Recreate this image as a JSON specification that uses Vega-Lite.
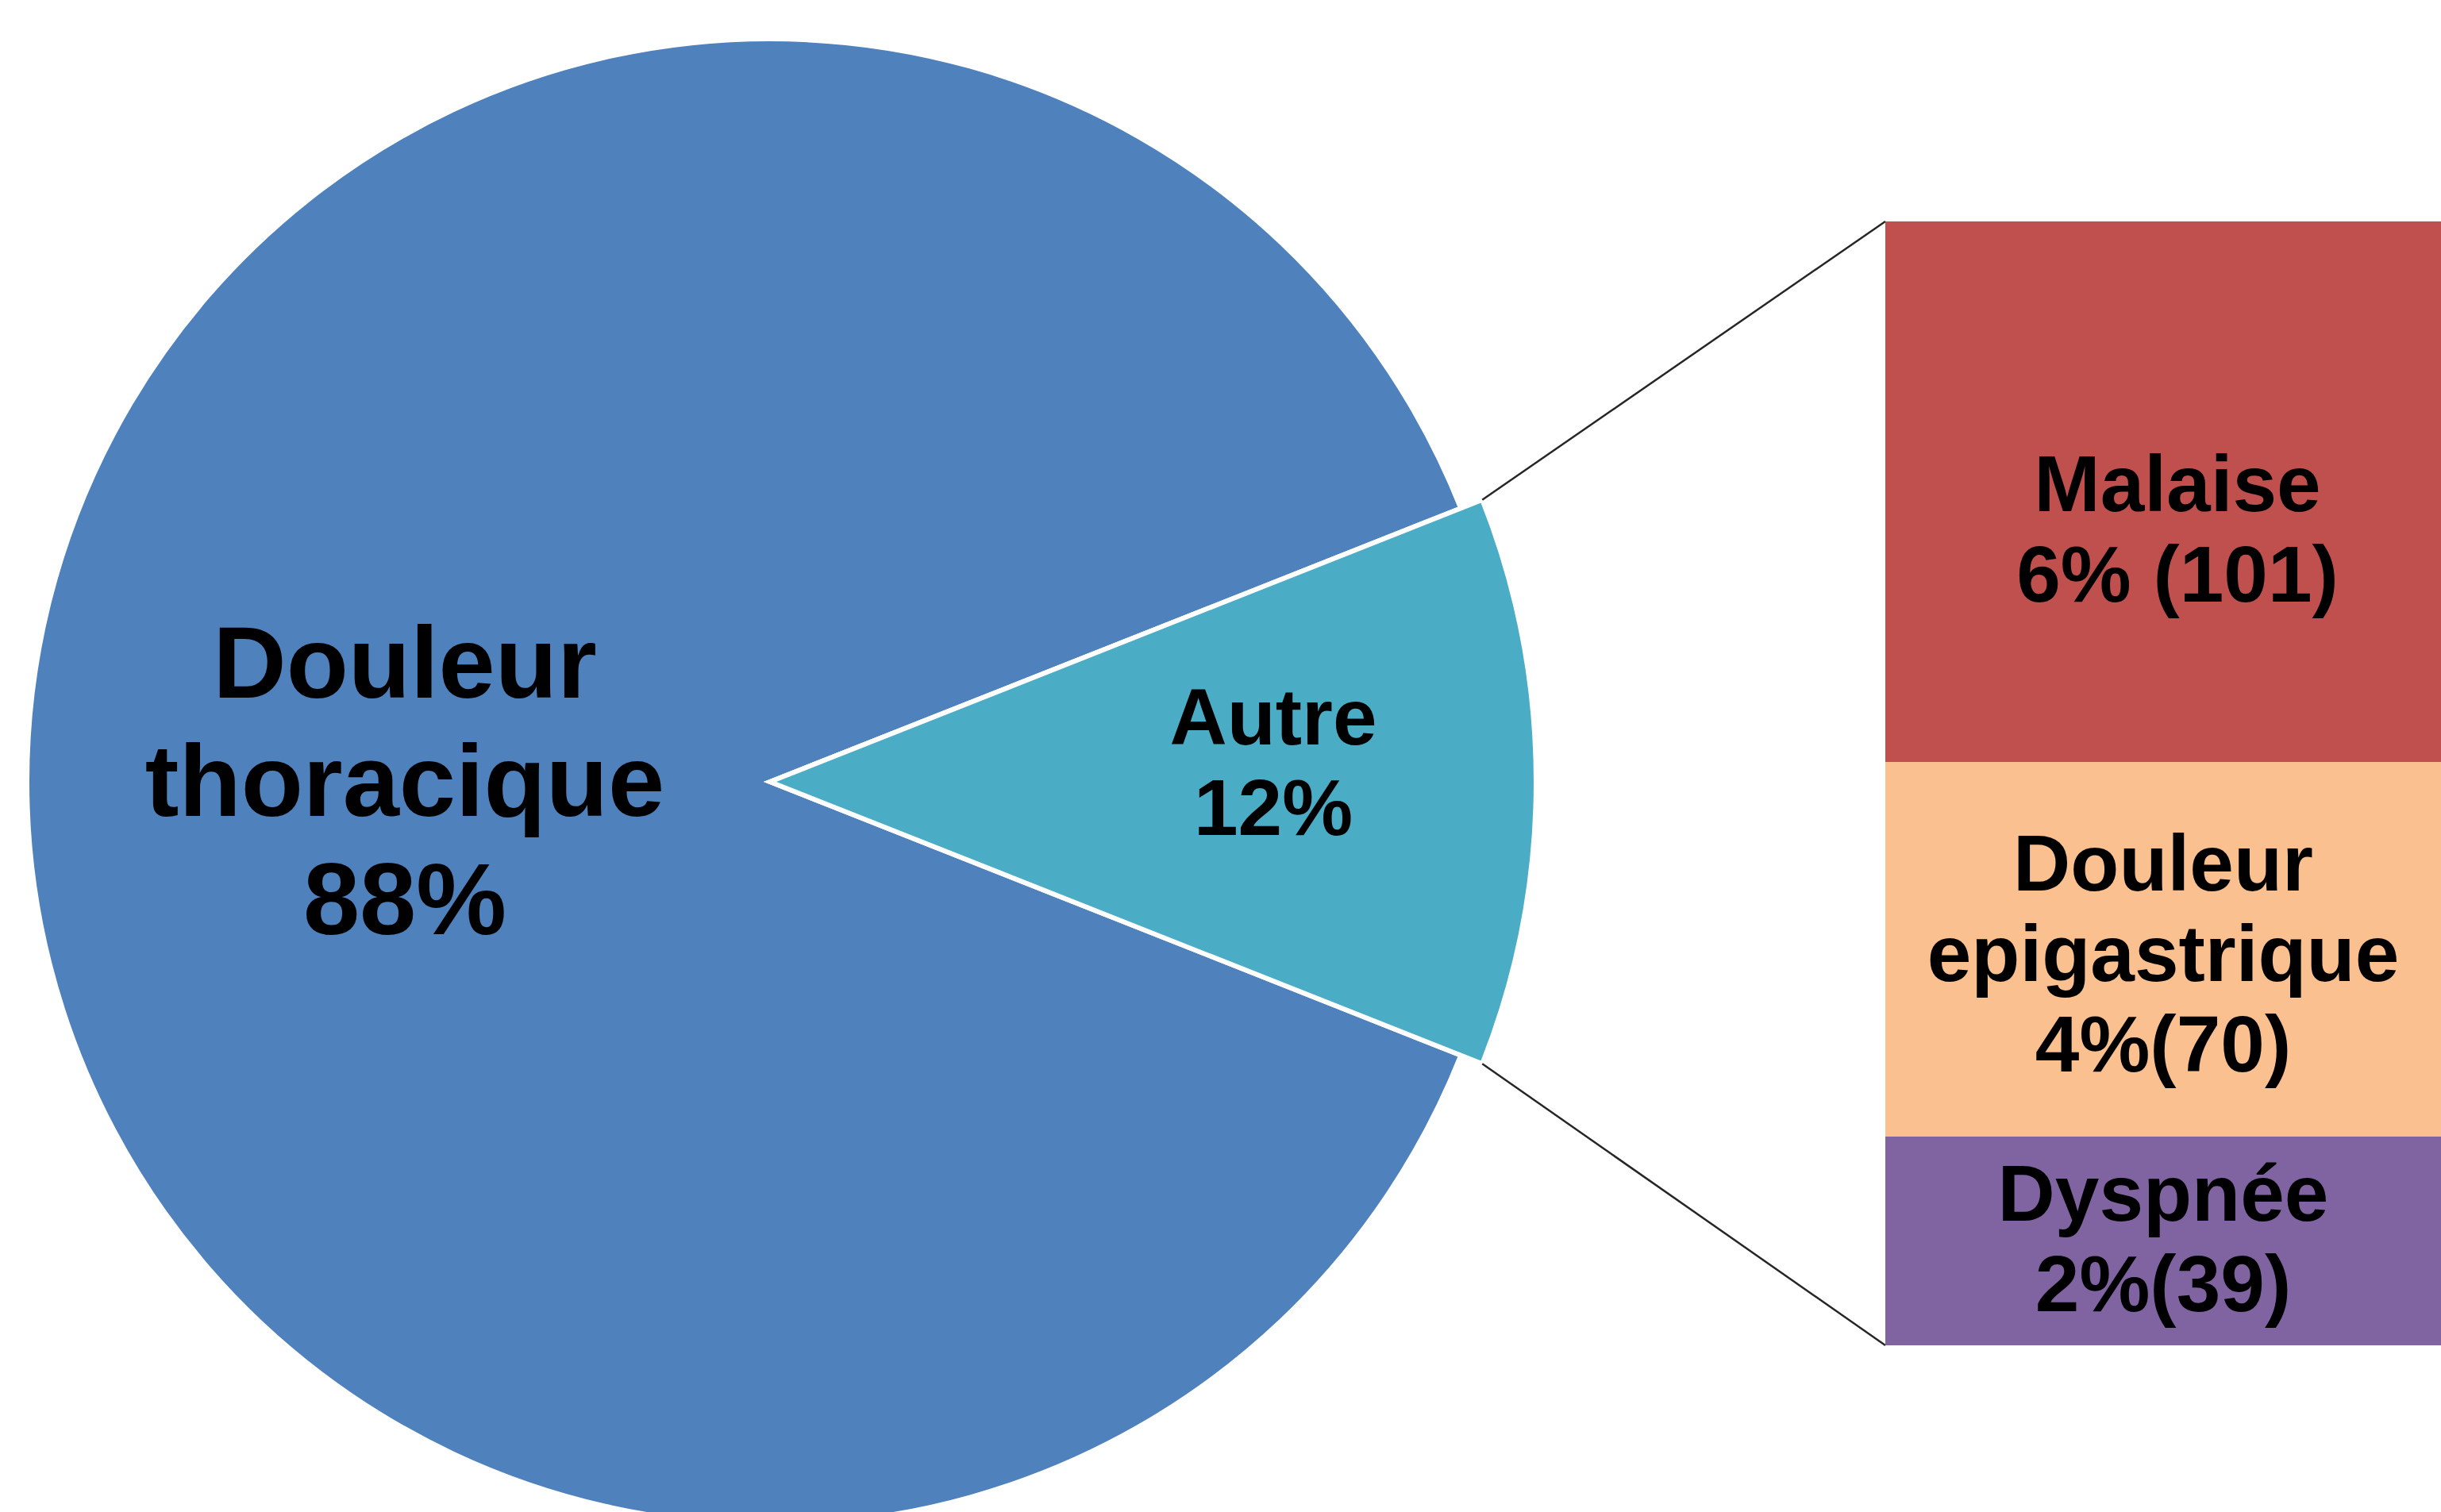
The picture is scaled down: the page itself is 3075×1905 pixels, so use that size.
{
  "$schema": "https://vega.github.io/schema/vega-lite/v6.json",
  "padding": 0,
  "background": "white",
  "config": {"view": {"stroke": null}, "text": {"font": "Liberation Sans"}},
  "datasets": {
    "camembert": [
      {"categorie": "Autre", "pct": 12, "ordre": 1, "etiquette": ["Autre", "12%"]},
      {"categorie": "Douleur thoracique", "pct": 88, "ordre": 2, "etiquette": ["Douleur", "thoracique", "88%"]}
    ],
    "barre": [
      {"groupe": "Autre", "categorie": "Dyspnée", "n": 39, "pct": 2, "ordre": 1, "etiquette": ["Dyspnée", "2%(39)"]},
      {"groupe": "Autre", "categorie": "Douleur epigastrique", "n": 70, "pct": 4, "ordre": 2, "etiquette": ["Douleur", "epigastrique", "4%(70)"]},
      {"groupe": "Autre", "categorie": "Malaise", "n": 101, "pct": 6, "ordre": 3, "etiquette": ["Malaise", "6% (101)"]}
    ]
  },
  "spacing": 435,
  "bounds": "flush",
  "hconcat": [
    {
      "width": 1940,
      "height": 1905,
      "data": {"name": "camembert"},
      "layer": [
        {
          "mark": {"type": "arc", "outerRadius": 936, "stroke": "white", "strokeWidth": 6, "clip": true},
          "encoding": {
            "x": {"datum": 0, "type": "quantitative", "scale": {"domain": [-1.036325, 1.036325], "nice": false, "zero": false}, "axis": null},
            "y": {"datum": 0, "type": "quantitative", "scale": {"domain": [-0.982906, 1.05235], "nice": false, "zero": false}, "axis": null},
            "theta": {"field": "pct", "type": "quantitative", "stack": true, "scale": {"range": [1.193805, 7.47699]}},
            "order": {"field": "ordre", "type": "quantitative"},
            "color": {"field": "categorie", "type": "nominal", "legend": null,
              "scale": {"domain": ["Douleur thoracique", "Autre", "Malaise", "Douleur epigastrique", "Dyspnée"],
                        "range": ["#4F81BD", "#4BACC6", "#C0504D", "#FAC090", "#8064A2"]}}
          }
        },
        {
          "mark": {"type": "arc", "outerRadius": 965, "stroke": "white", "strokeWidth": 6, "clip": true},
          "encoding": {
            "x": {"datum": 0, "type": "quantitative"},
            "y": {"datum": 0, "type": "quantitative"},
            "theta": {"field": "pct", "type": "quantitative", "stack": true},
            "order": {"field": "ordre", "type": "quantitative"},
            "color": {"field": "categorie", "type": "nominal", "legend": null},
            "opacity": {"condition": {"test": "datum.categorie === 'Autre'", "value": 1}, "value": 0}
          }
        },
        {
          "mark": {"type": "text", "radius": 460, "fontSize": 128, "lineHeight": 149, "fontWeight": "bold", "color": "black", "dy": -144},
          "encoding": {
            "x": {"datum": 0, "type": "quantitative"},
            "y": {"datum": 0, "type": "quantitative"},
            "theta": {"field": "pct", "type": "quantitative", "stack": true},
            "order": {"field": "ordre", "type": "quantitative"},
            "text": {"condition": {"test": "datum.categorie === 'Douleur thoracique'", "field": "etiquette", "type": "nominal"}, "value": ""}
          }
        },
        {
          "mark": {"type": "text", "radius": 634, "fontSize": 100, "lineHeight": 114, "fontWeight": "bold", "color": "black", "dy": -77},
          "encoding": {
            "x": {"datum": 0, "type": "quantitative"},
            "y": {"datum": 0, "type": "quantitative"},
            "theta": {"field": "pct", "type": "quantitative", "stack": true},
            "order": {"field": "ordre", "type": "quantitative"},
            "text": {"condition": {"test": "datum.categorie === 'Autre'", "field": "etiquette", "type": "nominal"}, "value": ""}
          }
        },
        {
          "data": {"values": [{"lien": "haut"}]},
          "mark": {"type": "rule", "color": "#262626", "strokeWidth": 2.5},
          "encoding": {
            "x": {"datum": 0.9586, "type": "quantitative"},
            "y": {"datum": 0.37953, "type": "quantitative"},
            "x2": {"datum": 1.50107},
            "y2": {"datum": 0.75427}
          }
        },
        {
          "data": {"values": [{"lien": "bas"}]},
          "mark": {"type": "rule", "color": "#262626", "strokeWidth": 2.5},
          "encoding": {
            "x": {"datum": 0.9586, "type": "quantitative"},
            "y": {"datum": -0.37953, "type": "quantitative"},
            "x2": {"datum": 1.50107},
            "y2": {"datum": -0.75855}
          }
        }
      ]
    },
    {
      "width": 700,
      "height": 1905,
      "data": {"name": "barre"},
      "encoding": {
        "x": {"field": "groupe", "type": "nominal", "axis": null, "scale": {"paddingInner": 0, "paddingOuter": 0}}
      },
      "layer": [
        {
          "mark": {"type": "bar"},
          "encoding": {
            "y": {"field": "n", "type": "quantitative", "stack": "zero", "axis": null,
                  "scale": {"domain": [-31.14, 251.38], "nice": false, "zero": false}},
            "order": {"field": "ordre", "type": "quantitative"},
            "color": {"field": "categorie", "type": "nominal", "legend": null,
              "scale": {"domain": ["Douleur thoracique", "Autre", "Malaise", "Douleur epigastrique", "Dyspnée"],
                        "range": ["#4F81BD", "#4BACC6", "#C0504D", "#FAC090", "#8064A2"]}}
          }
        },
        {
          "mark": {"type": "text", "fontSize": 100, "lineHeight": 114, "fontWeight": "bold", "color": "black", "dy": -6, "dx": 18},
          "encoding": {
            "y": {"field": "n", "type": "quantitative", "stack": "zero", "bandPosition": 0.5},
            "order": {"field": "ordre", "type": "quantitative"},
            "text": {"condition": {"test": "datum.categorie === 'Malaise'", "field": "etiquette", "type": "nominal"}, "value": ""}
          }
        },
        {
          "mark": {"type": "text", "fontSize": 100, "lineHeight": 114, "fontWeight": "bold", "color": "black", "dy": -104},
          "encoding": {
            "y": {"field": "n", "type": "quantitative", "stack": "zero", "bandPosition": 0.5},
            "order": {"field": "ordre", "type": "quantitative"},
            "text": {"condition": {"test": "datum.categorie === 'Douleur epigastrique'", "field": "etiquette", "type": "nominal"}, "value": ""}
          }
        },
        {
          "mark": {"type": "text", "fontSize": 100, "lineHeight": 114, "fontWeight": "bold", "color": "black", "dy": -56},
          "encoding": {
            "y": {"field": "n", "type": "quantitative", "stack": "zero", "bandPosition": 0.5},
            "order": {"field": "ordre", "type": "quantitative"},
            "text": {"condition": {"test": "datum.categorie === 'Dyspnée'", "field": "etiquette", "type": "nominal"}, "value": ""}
          }
        }
      ]
    }
  ]
}
